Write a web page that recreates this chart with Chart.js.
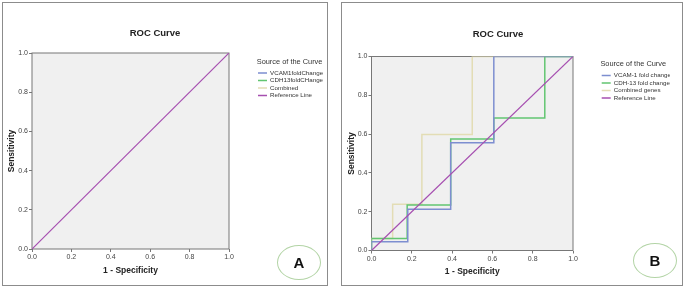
<!DOCTYPE html>
<html>
<head>
<meta charset="utf-8">
<script src="https://cdn.jsdelivr.net/npm/chart.js@4.4.1/dist/chart.umd.min.js"></script>
<style>
body { margin: 0; background: #fff; width: 685px; height: 289px; position: relative; overflow: hidden; font-family: "Liberation Sans", Arial, sans-serif; }
.panel { position: absolute; top: 2px; height: 282px; border: 1px solid #8c8c8c; background: #fff; }
#panelA { left: 2px; width: 324px; }
#panelB { left: 341px; width: 340px; }
.panel canvas { position: absolute; left: 0; top: 0; }
.tag { position: absolute; border: 1px solid #b3d4a6; border-radius: 50%; text-align: center; font-weight: bold; font-size: 15px; color: #111; }
</style>
</head>
<body>
<div class="panel" id="panelA">
  <canvas id="rocA" width="324" height="282"></canvas>
  <div class="tag" style="left:274px;top:242px;width:42px;height:33px;line-height:33px;">A</div>
</div>
<div class="panel" id="panelB">
  <canvas id="rocB" width="340" height="282"></canvas>
  <div class="tag" style="left:291px;top:240px;width:42px;height:33px;line-height:33px;">B</div>
</div>
<script>
// axis ticks (both axes)
var tickValues = [0, 0.2, 0.4, 0.6, 0.8, 1.0];
var tickLabels = ['0.0', '0.2', '0.4', '0.6', '0.8', '1.0'];

var namesA = ['VCAM1foldChange', 'CDH13foldCHange', 'Combined', 'Reference Line'];
var namesB = ['VCAM-1 fold change', 'CDH-13 fold change', 'Combined genes', 'Reference Line'];

// ROC corner points (1 - specificity, sensitivity), panel B
var vcamFpr = [0, 0, 0.180, 0.393, 0.607, 1];
var vcamTpr = [0, 0.045, 0.213, 0.555, 1, 1];
var cdhFpr  = [0, 0, 0.177, 0.393, 0.607, 0.860, 1];
var cdhTpr  = [0, 0.062, 0.234, 0.575, 0.683, 1, 1];
var combFpr = [0, 0, 0.105, 0.250, 0.500, 1];
var combTpr = [0, 0.062, 0.238, 0.598, 1, 1];
var refFpr  = [0, 1];
var refTpr  = [0, 1];

var colors = ['#7d8ed0', '#62c571', '#e3ddb5', '#a64fb0'];
var FONT = "'Liberation Sans', Arial, sans-serif";

function pts(xs, ys) {
    return xs.map(function(x, i) { return {x: x, y: ys[i]}; });
}

// gray plot background + frame
var plotFrame = {
    id: 'plotFrame',
    beforeDatasetsDraw: function(chart) {
        var a = chart.chartArea, ctx = chart.ctx;
        ctx.save();
        ctx.fillStyle = '#f0f0f0';
        ctx.fillRect(a.left, a.top, a.right - a.left, a.bottom - a.top);
        ctx.strokeStyle = '#777';
        ctx.lineWidth = 1;
        ctx.strokeRect(a.left, a.top, a.right - a.left, a.bottom - a.top);
        ctx.restore();
    }
};

function axis(pos, lay) {
    var horiz = pos == 'bottom';
    return {
        type: 'linear',
        position: pos,
        min: 0,
        max: 1,
        afterBuildTicks: function(s) { s.ticks = tickValues.map(function(v) { return {value: v}; }); },
        afterFit: function(s) {
            if (horiz) s.height = lay.xHeight; else s.width = lay.yWidth;
        },
        ticks: {
            autoSkip: false,
            maxRotation: 0,
            padding: 1,
            color: '#444',
            font: {family: FONT, size: 7},
            callback: function(v, i) { return tickLabels[i]; }
        },
        grid: {display: true, drawOnChartArea: false, drawTicks: true, tickLength: 3, color: '#777'},
        border: {display: false},
        title: {
            display: true,
            text: horiz ? '1 - Specificity' : 'Sensitivity',
            color: '#222',
            font: {family: FONT, size: 8.5, weight: 'bold'},
            padding: horiz ? {top: 0, bottom: lay.xTitlePad} : {top: lay.yTitlePad, bottom: 0}
        }
    };
}

function rocChart(id, names, curves, lay) {
    var datasets = curves.map(function(c, i) {
        return {
            label: names[i],
            data: c,
            borderColor: colors[i],
            backgroundColor: colors[i],
            borderWidth: i == 3 ? 1.2 : 1.5,
            pointRadius: 0,
            stepped: i == 3 ? false : 'before',
            fill: false,
            order: i == 3 ? 0 : (i == 2 ? 2 : 1)
        };
    });

    return new Chart(document.getElementById(id), {
        type: 'line',
        data: {datasets: datasets},
        plugins: [plotFrame],
        options: {
            responsive: false,
            animation: false,
            devicePixelRatio: 1,
            layout: {padding: {left: lay.padLeft, top: 0, right: lay.padRight, bottom: 6}},
            plugins: {
                title: {
                    display: true,
                    text: 'ROC Curve',
                    color: '#222',
                    font: {family: FONT, size: 9.5, weight: 'bold'},
                    padding: {top: lay.titleTop, bottom: lay.titleBottom}
                },
                legend: {
                    position: 'right',
                    align: 'start',
                    fullSize: false,
                    maxWidth: lay.legendWidth,
                    title: {
                        display: true,
                        text: 'Source of the Curve',
                        position: 'start',
                        color: '#333',
                        font: {family: FONT, size: 7.4, lineHeight: 1},
                        padding: {top: lay.legTop, bottom: lay.legBottom}
                    },
                    labels: {
                        usePointStyle: true,
                        pointStyle: 'line',
                        pointStyleWidth: 9,
                        padding: 1.3,
                        color: '#333',
                        font: {family: FONT, size: 6.2},
                        sort: function(a, b) { return a.datasetIndex - b.datasetIndex; },
                        generateLabels: function(chart) {
                            var items = Chart.defaults.plugins.legend.labels.generateLabels(chart);
                            items.forEach(function(it) {
                                var ds = chart.data.datasets[it.datasetIndex];
                                it.strokeStyle = ds.borderColor;
                                it.fillStyle = ds.borderColor;
                                it.lineWidth = 1.5;
                            });
                            return items;
                        }
                    }
                },
                tooltip: {enabled: false}
            },
            scales: {
                x: axis('bottom', lay),
                y: axis('left', lay),
                // empty strip between plot and legend
                gap: {
                    type: 'linear',
                    position: 'right',
                    display: true,
                    ticks: {display: false},
                    grid: {display: false},
                    border: {display: false},
                    afterFit: function(s) { s.width = lay.gap; }
                }
            }
        }
    });
}

rocChart('rocA', namesA, [[], [], [], pts(refFpr, refTpr)], {
    padLeft: -16, padRight: 4, titleTop: 24.3, titleBottom: 14.3, legendWidth: 66.3, gap: 27.7,
    legTop: 5.75, legBottom: 2.45, xHeight: 30, yWidth: 45, xTitlePad: 3.2, yTitlePad: 19.6
});

rocChart('rocB', namesB, [
    pts(vcamFpr, vcamTpr),
    pts(cdhFpr, cdhTpr),
    pts(combFpr, combTpr),
    pts(refFpr, refTpr)
], {
    padLeft: -16, padRight: 12, titleTop: 25.6, titleBottom: 16.5, legendWidth: 69.6, gap: 27.4,
    legTop: 3.75, legBottom: 3.45, xHeight: 28.5, yWidth: 45.5, xTitlePad: 2.2, yTitlePad: 20.6
});
</script>
</body>
</html>
